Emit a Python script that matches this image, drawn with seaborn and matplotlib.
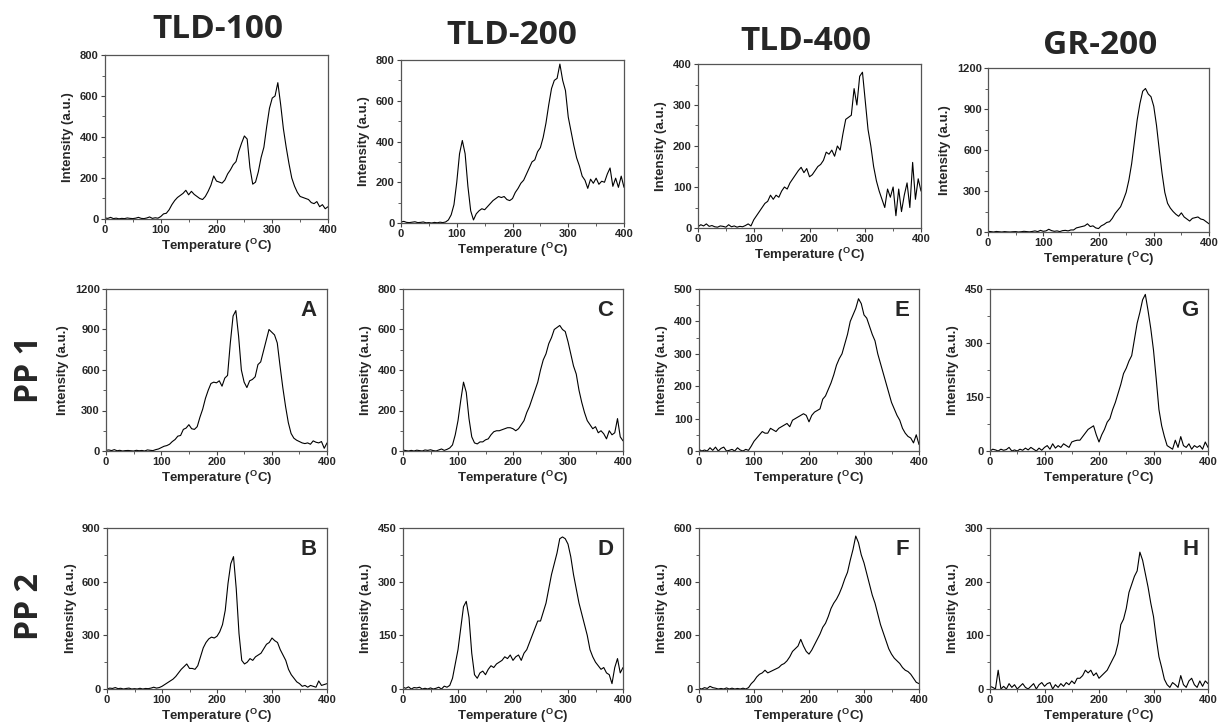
import matplotlib.pyplot as plt
import pandas as pd
import seaborn as sns
from matplotlib.ticker import AutoMinorLocator, MultipleLocator

# ------------------------------------------------------------
# Data (5 degC steps)
# ------------------------------------------------------------

temps = list(range(0, 401, 5))

tld100_ref = [5, 3, 8, 2, 4, 1, 3, 2, 5, 3,
              2, 4, 8, 3, 2, 5, 10, 3, 6, 4,
              12, 25, 28, 45, 70, 90, 105, 115, 125, 140,
              118, 135, 120, 110, 100, 95, 110, 135, 165, 210,
              185, 180, 175, 190, 220, 240, 265, 280, 330, 370,
              405, 390, 250, 170, 180, 230, 300, 350, 450, 540,
              590, 600, 665, 560, 440, 350, 270, 200, 160, 130,
              110, 105, 100, 95, 80, 75, 85, 60, 70, 50,
              60]
tld200_ref = [5, 8, 3, 2, 4, 6, 2, 3, 5, 1,
              2, 0, 3, 1, 4, 2, 5, 15, 40, 90,
              200, 340, 405, 340, 180, 60, 15, 45, 60, 70,
              65, 80, 95, 110, 120, 130, 125, 130, 115, 110,
              120, 150, 170, 195, 210, 240, 270, 300, 310, 350,
              370, 420, 490, 580, 660, 700, 710, 780, 700, 650,
              520, 450, 380, 320, 280, 230, 210, 170, 215, 195,
              220, 190, 205, 200, 240, 270, 180, 220, 175, 230,
              175]
tld400_ref = [3, 8, 5, 10, 4, 6, 3, 2, 5, 4,
              2, 8, 3, 5, 2, 4, 3, 6, 10, 5,
              20, 30, 40, 50, 60, 65, 80, 70, 80, 75,
              90, 100, 95, 110, 120, 130, 140, 148, 135, 145,
              125, 130, 140, 150, 155, 165, 185, 180, 190, 175,
              200, 190, 230, 265, 270, 275, 340, 300, 370, 380,
              310, 240, 200, 150, 115, 90, 70, 50, 95, 75,
              100, 30, 95, 40, 80, 110, 50, 160, 70, 120,
              90]
gr200_ref = [5, 3, 0, 4, 2, 0, 3, 1, 0, 2,
             3, 0, 2, 5, 3, 1, 4, 8, 3, 12,
             5, 8, 20, 10, 5, 8, 3, 10, 12, 8,
             15, 15, 30, 35, 40, 45, 60, 40, 45, 30,
             25, 45, 55, 70, 75, 100, 135, 160, 185, 235,
             290, 380, 500, 660, 820, 940, 1030, 1050, 1010, 990,
             920, 780, 600, 430, 290, 210, 175, 150, 130, 115,
             140, 110, 95, 80, 100, 105, 110, 95, 90, 75,
             60]

pp1_a = [5, 8, 3, 10, 2, 5, 0, 3, 4, 2,
         0, 5, 2, 4, 0, 8, 5, 3, 10, 15,
         25, 35, 40, 50, 70, 85, 110, 115, 160, 170,
         195, 165, 160, 180, 250, 310, 390, 450, 500, 510,
         505, 520, 480, 540, 560, 800, 1000, 1040, 850, 600,
         510, 470, 520, 530, 550, 640, 660, 740, 820, 900,
         880, 860, 800, 630, 470, 330, 210, 130, 95, 80,
         70, 60, 55, 60, 50, 75, 65, 60, 70, 20,
         60]
pp1_c = [5, 2, 0, 3, 0, 4, 2, 0, 5, 3,
         6, 2, 0, 5, 10, 3, 8, 15, 30, 80,
         150, 250, 340, 290, 160, 70, 40, 35, 45, 45,
         55, 60, 80, 95, 100, 100, 105, 110, 115, 115,
         110, 100, 110, 130, 150, 190, 220, 260, 300, 340,
         400, 450, 480, 530, 560, 600, 610, 620, 600, 590,
         540, 480, 420, 380, 300, 240, 190, 150, 130, 110,
         120, 90, 100, 85, 60, 100, 80, 90, 160, 70,
         50]
pp1_e = [5, 0, 3, 0, 10, 2, 12, 0, 8, 12,
         0, 2, 5, 0, 10, 3, 0, 5, 2, 15,
         30, 40, 50, 60, 55, 55, 70, 65, 60, 70,
         75, 80, 85, 75, 95, 100, 105, 110, 115, 110,
         90, 110, 120, 125, 130, 160, 170, 190, 210, 235,
         265, 285, 300, 330, 360, 400, 420, 440, 470, 455,
         420, 410, 385, 360, 340, 300, 270, 240, 210, 180,
         150, 130, 110, 95, 70, 55, 45, 40, 25, 50,
         20]
pp1_g = [0, 5, 3, 0, 5, 2, 4, 10, 0, 3,
         0, 5, 2, 8, 3, 10, 5, 0, 8, 2,
         10, 15, 5, 20, 8, 15, 10, 20, 15, 10,
         25, 28, 30, 30, 40, 50, 60, 65, 70, 45,
         25, 45, 60, 80, 90, 115, 135, 160, 185, 215,
         230, 250, 265, 310, 355, 385, 420, 435, 390, 340,
         280, 200, 115, 70, 40, 15, 10, 5, 30, 10,
         40, 15, 10, 20, 5, 15, 10, 15, 5, 25,
         10]

pp2_b = [0, 5, 3, 8, 2, 4, 0, 3, 5, 0,
         2, 0, 4, 0, 3, 2, 5, 10, 5, 8,
         15, 25, 35, 45, 55, 70, 90, 110, 125, 140,
         115, 115, 110, 130, 180, 230, 260, 280, 290, 285,
         295, 320, 360, 440, 590, 700, 740, 560, 310, 160,
         140, 150, 170, 160, 180, 190, 200, 225, 250, 260,
         285, 270, 260, 220, 190, 160, 110, 80, 60, 40,
         30, 15, 20, 10, 20, 15, 10, 45, 20, 25,
         30]
pp2_d = [5, 2, 6, 0, 4, 3, 5, 0, 2, 0,
         3, 0, 2, 5, 0, 8, 5, 10, 30, 70,
         110, 170, 230, 245, 200, 100, 40, 30, 45, 50,
         40, 55, 65, 60, 70, 75, 80, 90, 85, 95,
         80, 90, 95, 80, 100, 110, 130, 150, 170, 190,
         190, 215, 240, 280, 320, 350, 380, 420, 425, 420,
         405, 370, 320, 280, 240, 210, 180, 150, 110, 90,
         75, 65, 55, 60, 45, 40, 15, 60, 85, 45,
         60]
pp2_f = [3, 0, 5, 2, 10, 5, 3, 0, 2, 0,
         4, 0, 3, 0, 2, 0, 3, 0, 5, 20,
         30, 45, 55, 60, 70, 60, 65, 70, 75, 80,
         90, 95, 105, 120, 140, 150, 160, 185, 160, 140,
         130, 145, 165, 185, 205, 230, 245, 270, 300, 320,
         335, 355, 380, 410, 435, 480, 520, 570, 545, 500,
         470, 430, 390, 350, 320, 280, 240, 210, 180, 150,
         130, 115, 105, 95, 80, 70, 65, 55, 40, 25,
         20]
pp2_h = [5, 3, 0, 35, 0, 5, 0, 10, 3, 8,
         0, 5, 10, 3, 0, 5, 10, 0, 8, 12,
         5, 10, 12, 0, 8, 3, 10, 5, 12, 8,
         15, 10, 20, 20, 25, 35, 30, 35, 25, 30,
         20, 25, 30, 35, 45, 55, 65, 85, 120, 130,
         150, 180, 195, 210, 220, 255, 240, 215, 190, 160,
         135, 95, 60, 40, 18, 8, 3, 12, 8, 3,
         25, 8, 3, 15, 20, 8, 3, 15, 5, 15,
         10]

col_titles = ["TLD-100", "TLD-200", "TLD-400", "GR-200"]
row_titles = ["PP 1", "PP 2"]

# series, y max, y step, panel letter
panels = [
    [(tld100_ref, 800, 200, ""), (tld200_ref, 800, 200, ""),
     (tld400_ref, 400, 100, ""), (gr200_ref, 1200, 300, "")],
    [(pp1_a, 1200, 300, "A"), (pp1_c, 800, 200, "C"),
     (pp1_e, 500, 100, "E"), (pp1_g, 450, 150, "G")],
    [(pp2_b, 900, 300, "B"), (pp2_d, 450, 150, "D"),
     (pp2_f, 600, 200, "F"), (pp2_h, 300, 100, "H")],
]

# axes boxes in pixels: left, right, top, bottom
boxes = [
    [(105, 328, 55, 219), (401, 624, 60, 223), (698, 921, 64, 228), (988, 1209, 68, 232)],
    [(106, 327, 289, 451), (403, 623, 289, 451), (699, 919, 289, 451), (990, 1208, 289, 451)],
    [(107, 327, 528, 689), (403, 623, 528, 689), (699, 919, 528, 689), (990, 1208, 528, 689)],
]

# ------------------------------------------------------------
# Plot
# ------------------------------------------------------------

W, H = 1221, 724
sns.set_theme(style="ticks")
plt.rcParams["font.family"] = ["Liberation Sans", "DejaVu Sans"]
plt.rcParams["font.weight"] = "bold"
plt.rcParams["axes.labelweight"] = "bold"
plt.rcParams["mathtext.fontset"] = "custom"
plt.rcParams["mathtext.bf"] = "Liberation Sans:bold"
plt.rcParams["mathtext.rm"] = "Liberation Sans:bold"
plt.rcParams["mathtext.default"] = "bf"

fig = plt.figure(figsize=(W / 100, H / 100), dpi=100, facecolor="white")

for r, row in enumerate(panels):
    for c, (series, ymax, ystep, letter) in enumerate(row):
        left, right, top, bottom = boxes[r][c]
        ax = fig.add_axes([left / W, 1 - bottom / H, (right - left) / W, (bottom - top) / H])
        df = pd.DataFrame({"Temperature": temps, "Intensity": series})
        sns.lineplot(data=df, x="Temperature", y="Intensity", ax=ax,
                     color="black", linewidth=0.8)
        ax.set_xlim(0, 400)
        ax.set_ylim(0, ymax)
        ax.xaxis.set_major_locator(MultipleLocator(100))
        ax.yaxis.set_major_locator(MultipleLocator(ystep))
        ax.xaxis.set_minor_locator(AutoMinorLocator(2))
        ax.yaxis.set_minor_locator(AutoMinorLocator(2))
        ax.tick_params(which="major", direction="out", length=3, width=0.8,
                       labelsize=8, pad=1.5, color="#444444")
        ax.tick_params(which="minor", direction="out", length=2, width=0.6,
                       color="#444444")
        for lbl in ax.get_xticklabels() + ax.get_yticklabels():
            lbl.set_fontweight("bold")
        for sp in ax.spines.values():
            sp.set_visible(True)
            sp.set_color("#555555")
            sp.set_linewidth(0.9)
        ax.set_xlabel("Temperature ($^{O}$C)", fontsize=9.5, labelpad=1)
        ax.set_ylabel("Intensity (a.u.)", fontsize=9.5, labelpad=4)
        if letter:
            ax.text(0.955, 0.93, letter, transform=ax.transAxes, ha="right",
                    va="top", fontsize=16, fontweight="bold")

title_pos = [(218, 30), (512, 35), (806, 41), (1100, 46)]
for txt, (x, y) in zip(col_titles, title_pos):
    fig.text(x / W, 1 - y / H, txt, ha="center", va="center",
             fontsize=24, fontweight="bold", family=["Open Sans", "DejaVu Sans"])

row_pos = [(30, 370), (30, 607)]
for txt, (x, y) in zip(row_titles, row_pos):
    fig.text(x / W, 1 - y / H, txt, ha="center", va="center", rotation=90,
             fontsize=23, fontweight="bold", family=["Open Sans", "DejaVu Sans"])

fig.savefig("out.png", dpi=100, facecolor="white")
